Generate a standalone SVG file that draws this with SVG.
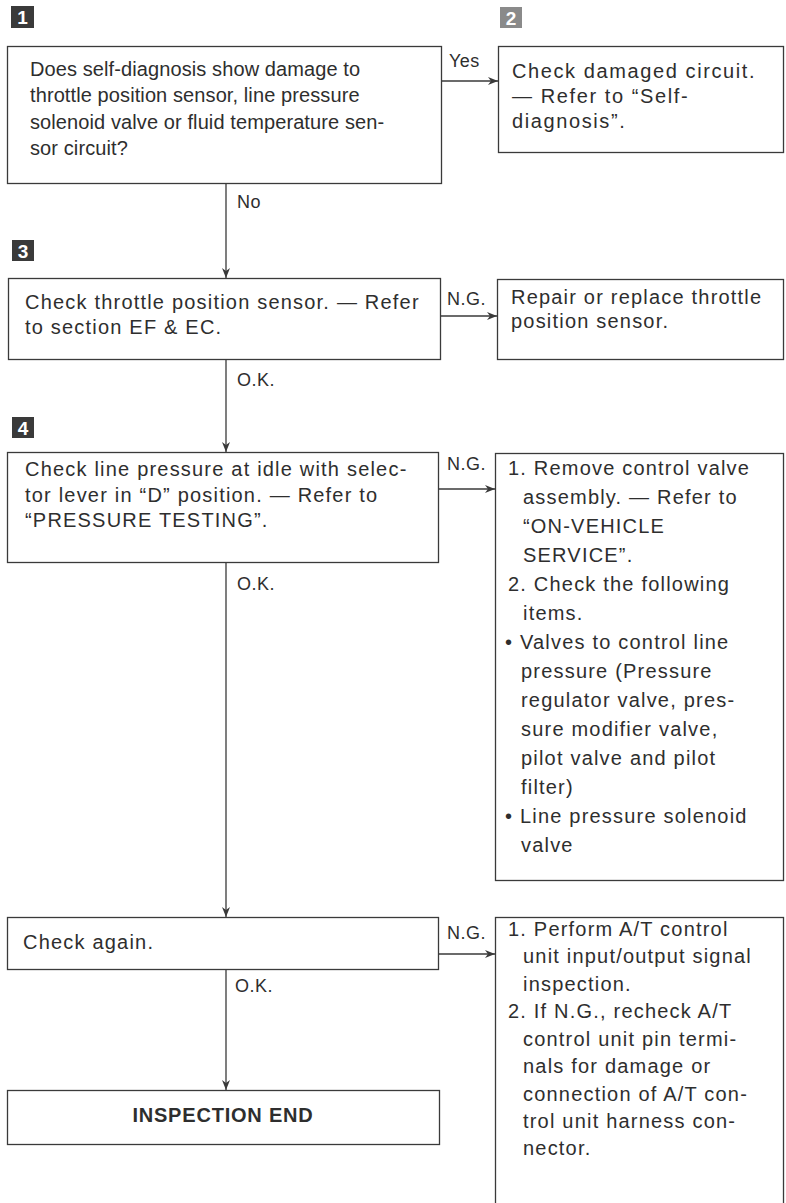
<svg xmlns="http://www.w3.org/2000/svg" width="786" height="1203" viewBox="0 0 786 1203">
<defs>
<style>
.box{fill:#fff;stroke:#3a3a3a;stroke-width:1.3}
.t{font-family:"Liberation Sans",Arial,sans-serif;font-size:20px;fill:#2e2e2e;letter-spacing:1.2px}
.t1{letter-spacing:0.1px}
.t2{letter-spacing:1.6px}
.lbl{font-family:"Liberation Sans",Arial,sans-serif;font-size:18px;fill:#2e2e2e;letter-spacing:0.5px}
.b{font-weight:bold;letter-spacing:0.8px}
.mk{fill:#3a3a3a}
.mk2{fill:#8a8a8a}
.mt{font-family:"Liberation Sans",Arial,sans-serif;font-size:19px;font-weight:bold;fill:#fff;text-anchor:middle}
.ln{fill:none;stroke:#3a3a3a;stroke-width:1.3}
</style>
<marker id="ah" viewBox="0 0 10 8" refX="10" refY="4" markerWidth="10" markerHeight="8" markerUnits="userSpaceOnUse" orient="auto">
<path d="M0,0 L10,4 L0,8 L3,4 Z" fill="#3a3a3a"/>
</marker>
</defs>
<rect width="786" height="1203" fill="#fff"/>

<g id="markers">
<rect class="mk" x="11" y="6" width="23" height="22"/><text class="mt" x="22.5" y="24">1</text>
<rect class="mk2" x="500" y="7" width="22" height="21"/><text class="mt" x="511" y="25">2</text>
<rect class="mk" x="12" y="240" width="22" height="21"/><text class="mt" x="23" y="258">3</text>
<rect class="mk" x="12" y="417" width="22" height="21"/><text class="mt" x="23" y="435">4</text>
</g>

<g id="connectors">
<line class="ln" x1="441" y1="81" x2="498" y2="81" marker-end="url(#ah)"/>
<line class="ln" x1="226" y1="183" x2="226" y2="278" marker-end="url(#ah)"/>
<line class="ln" x1="441" y1="316" x2="497" y2="316" marker-end="url(#ah)"/>
<line class="ln" x1="226" y1="359" x2="226" y2="452" marker-end="url(#ah)"/>
<line class="ln" x1="438" y1="489" x2="495" y2="489" marker-end="url(#ah)"/>
<line class="ln" x1="226" y1="562" x2="226" y2="917" marker-end="url(#ah)"/>
<line class="ln" x1="438" y1="954" x2="495" y2="954" marker-end="url(#ah)"/>
<line class="ln" x1="226" y1="969" x2="226" y2="1090" marker-end="url(#ah)"/>
<text class="lbl" x="449" y="67">Yes</text>
<text class="lbl" x="237" y="208">No</text>
<text class="lbl" x="447" y="305">N.G.</text>
<text class="lbl" x="237" y="386">O.K.</text>
<text class="lbl" x="447" y="470">N.G.</text>
<text class="lbl" x="237" y="590">O.K.</text>
<text class="lbl" x="447" y="939">N.G.</text>
<text class="lbl" x="235" y="992">O.K.</text>
</g>

<g id="node1">
<rect class="box" x="7.5" y="46.5" width="434" height="137"/>
<text class="t t1" x="30" y="76">Does self-diagnosis show damage to</text>
<text class="t t1" x="30" y="102">throttle position sensor, line pressure</text>
<text class="t t1" x="30" y="129">solenoid valve or fluid temperature sen-</text>
<text class="t t1" x="30" y="155">sor circuit?</text>
</g>

<g id="node2">
<rect class="box" x="498.5" y="46.5" width="285" height="106"/>
<text class="t t2" x="512" y="78">Check damaged circuit.</text>
<text class="t t2" x="512" y="103">— Refer to “Self-</text>
<text class="t t2" x="512" y="128">diagnosis”.</text>
</g>

<g id="node3">
<rect class="box" x="8.5" y="278.5" width="432" height="81"/>
<text class="t" x="25" y="309">Check throttle position sensor. — Refer</text>
<text class="t" x="25" y="334">to section EF &amp; EC.</text>
</g>

<g id="node3ng">
<rect class="box" x="497.5" y="279.5" width="286" height="80"/>
<text class="t" x="511" y="304">Repair or replace throttle</text>
<text class="t" x="511" y="328">position sensor.</text>
</g>

<g id="node4">
<rect class="box" x="7.5" y="452.5" width="431" height="110"/>
<text class="t" x="25" y="476">Check line pressure at idle with selec-</text>
<text class="t" x="25" y="502">tor lever in “D” position. — Refer to</text>
<text class="t" x="25" y="527">“PRESSURE TESTING”.</text>
</g>

<g id="node4ng">
<rect class="box" x="495.5" y="453.5" width="288" height="427"/>
<text class="t" x="508" y="475">1. Remove control valve</text>
<text class="t" x="523" y="504">assembly. — Refer to</text>
<text class="t" x="523" y="533">“ON-VEHICLE</text>
<text class="t" x="523" y="562">SERVICE”.</text>
<text class="t" x="508" y="591">2. Check the following</text>
<text class="t" x="523" y="620">items.</text>
<text class="t" x="505" y="649">• Valves to control line</text>
<text class="t" x="521" y="678">pressure (Pressure</text>
<text class="t" x="521" y="707">regulator valve, pres-</text>
<text class="t" x="521" y="736">sure modifier valve,</text>
<text class="t" x="521" y="765">pilot valve and pilot</text>
<text class="t" x="521" y="794">filter)</text>
<text class="t" x="505" y="823">• Line pressure solenoid</text>
<text class="t" x="521" y="852">valve</text>
</g>

<g id="node5">
<rect class="box" x="7.5" y="917.5" width="431" height="52"/>
<text class="t" x="23" y="949">Check again.</text>
</g>

<g id="node5ng">
<rect class="box" x="495.5" y="917.5" width="288" height="300"/>
<text class="t" x="508" y="936">1. Perform A/T control</text>
<text class="t" x="523" y="963">unit input/output signal</text>
<text class="t" x="523" y="991">inspection.</text>
<text class="t" x="508" y="1018">2. If N.G., recheck A/T</text>
<text class="t" x="523" y="1046">control unit pin termi-</text>
<text class="t" x="523" y="1073">nals for damage or</text>
<text class="t" x="523" y="1101">connection of A/T con-</text>
<text class="t" x="523" y="1128">trol unit harness con-</text>
<text class="t" x="523" y="1155">nector.</text>
</g>

<g id="node6">
<rect class="box" x="7.5" y="1090.5" width="432" height="54"/>
<text class="t b" x="223" y="1122" text-anchor="middle">INSPECTION END</text>
</g>
</svg>
